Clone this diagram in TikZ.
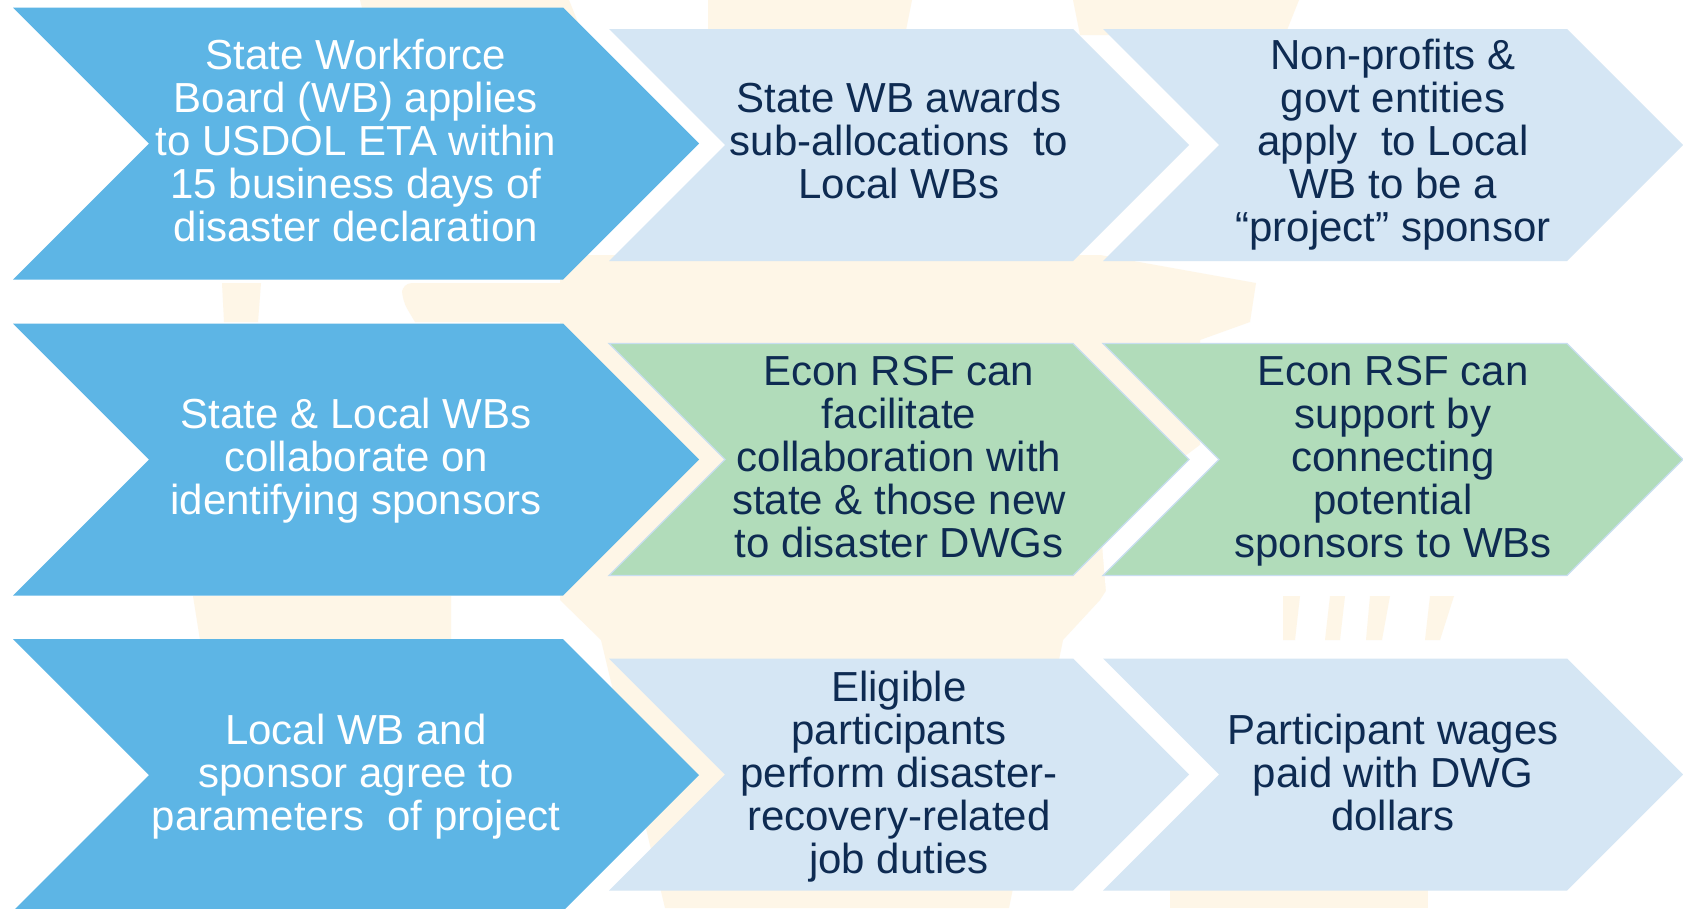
\documentclass[tikz,border=0pt]{standalone}
\usepackage{fontspec}
\setmainfont{Liberation Sans}
\definecolor{cblue}{RGB}{93,181,229}
\definecolor{clight}{RGB}{213,230,244}
\definecolor{cgreen}{RGB}{177,220,186}
\definecolor{cgreenline}{RGB}{200,222,240}
\definecolor{cnavy}{RGB}{14,43,82}
\definecolor{cwm}{RGB}{254,246,231}
\newcommand{\ftop}{\rule{0pt}{0.76em}}
\newcommand{\fbot}{\rule[-0.22em]{0pt}{0.22em}}
\tikzset{
  lbl/.style={align=center, inner sep=0pt, font=\fontsize{42}{43}\selectfont},
  wlbl/.style={lbl, text=white},
  dlbl/.style={lbl, text=cnavy},
  bluefill/.style={fill=cblue},
  lightfill/.style={fill=clight},
  greenfill/.style={fill=cgreen, draw=cgreenline, line width=1.2pt},
  wmark/.style={fill=cwm},
}
\newcommand{\chevshape}[5]{%
  \pgfmathsetmacro{\chd}{(#5-#3)/2}%
  \pgfmathsetmacro{\chm}{(#5+#3)/2}%
  \path[#1] (#2,#3) -- ({#4-\chd},#3) -- (#4,\chm) -- ({#4-\chd},#5) -- (#2,#5) -- ({#2+\chd},\chm) -- cycle;}
\begin{document}
\begin{tikzpicture}[x=1pt,y=-1pt]
\useasboundingbox (0,0) rectangle (1683,908);
\fill[white] (0,0) rectangle (1683,908);
% faint watermark
\path[wmark] (360,0) -- (569,0) -- (585,40) -- (370,40) -- cycle;
\path[wmark] (708,0) -- (912,0) -- (905,35) -- (708,35) -- cycle;
\path[wmark] (1073,0) -- (1299,0) -- (1285,35) -- (1080,35) -- cycle;
\path[wmark] (402,283) -- (580,283) -- (580,322) -- (415,322) [rounded corners=10pt] -- (402,300) -- cycle;
\path[wmark] (222,283) -- (261,283) -- (258,322) -- (224,322) -- cycle;
\path[wmark] (560,255) -- (1100,255) -- (1256,283) -- (1250,322) -- (1200,340) -- (1200,445) -- (1100,600)
  -- (1063,640) -- (1009,908) -- (665,908) -- (601,640) -- (560,600) -- cycle;
\path[wmark] (1170,860) -- (1428,860) -- (1428,908) -- (1170,908) -- cycle;
\path[wmark] (193,596) -- (451,596) -- (451,640) -- (200,640) -- cycle;
\path[wmark] (1283,596) -- (1300,596) -- (1295,640) -- (1283,640) -- cycle;
\path[wmark] (1330,596) -- (1345,596) -- (1340,640) -- (1325,640) -- cycle;
\path[wmark] (1370,596) -- (1390,596) -- (1382,640) -- (1366,640) -- cycle;
\path[wmark] (1430,596) -- (1454,596) -- (1440,640) -- (1425,640) -- cycle;
\fill[white] (1100,520) -- (1200,445) -- (1200,640) -- (1110,640) -- cycle;
% row 1
\chevshape{bluefill}{13}{7.5}{699}{279.5}
\chevshape{lightfill}{609}{29}{1189}{261}
\chevshape{lightfill}{1103}{29}{1683}{261}
% row 2
\chevshape{bluefill}{13}{323.5}{699}{595.5}
\chevshape{greenfill}{609}{343.5}{1189}{575.5}
\chevshape{greenfill}{1103}{343.5}{1683}{575.5}
% row 3
\chevshape{bluefill}{13}{639}{699}{911}
\chevshape{lightfill}{609}{658.5}{1189}{890.5}
\chevshape{lightfill}{1103}{658.5}{1683}{890.5}
% texts
\node[wlbl] (a1) at (356,144) {\ftop State Workforce\\Board (WB) applies\\to USDOL ETA within\\15 business days of\\disaster declaration\fbot};
\node[dlbl] (a2) at (899,144) {\ftop State WB awards\\sub-allocations\ \ to\\Local WBs\fbot};
\node[dlbl] (a3) at (1393,144) {\ftop Non-profits \&\\govt entities\\apply\ \ to Local\\WB to be a\\“project” sponsor\fbot};
\node[wlbl] (b1) at (356,460) {\ftop State \& Local WBs\\collaborate on\\identifying sponsors\fbot};
\node[dlbl] (b2) at (899,460) {\ftop Econ RSF can\\facilitate\\collaboration with\\state \& those new\\to disaster DWGs\fbot};
\node[dlbl] (b3) at (1393,460) {\ftop Econ RSF can\\support by\\connecting\\potential\\sponsors to WBs\fbot};
\node[wlbl] (c1) at (356,776) {\ftop Local WB and\\sponsor agree to\\parameters\ \ of project\fbot};
\node[dlbl] (c2) at (899,776) {\ftop Eligible\\participants\\perform disaster-\\recovery-related\\job duties\fbot};
\node[dlbl] (c3) at (1393,776) {\ftop Participant wages\\paid with DWG\\dollars\fbot};
\end{tikzpicture}
\end{document}
